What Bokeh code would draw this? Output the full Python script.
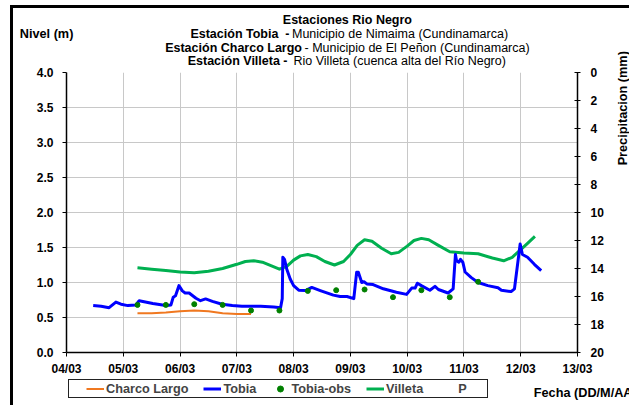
import math
from bokeh.plotting import figure
from bokeh.layouts import column
from bokeh.models import (Range1d, LinearAxis, FixedTicker, Legend, LegendItem,
                          Label, Title, NumeralTickFormatter)
from bokeh.embed import file_html
from bokeh.resources import INLINE

# ---------------- data ----------------
dias_ticks = [4, 5, 6, 7, 8, 9, 10, 11, 12, 13]
etiquetas_fecha = ["04/03", "05/03", "06/03", "07/03", "08/03",
                   "09/03", "10/03", "11/03", "12/03", "13/03"]
nivel_ticks = [0.0, 0.5, 1.0, 1.5, 2.0, 2.5, 3.0, 3.5, 4.0]
precip_ticks = [0, 2, 4, 6, 8, 10, 12, 14, 16, 18, 20]

tobia_dia = [4.47, 4.61, 4.75, 4.87, 4.96, 5.08, 5.22, 5.28, 5.52, 5.75, 5.84, 5.88,
             5.92, 5.98, 6.04, 6.09, 6.16, 6.28, 6.36, 6.45, 6.57, 6.74, 6.92, 7.09,
             7.33, 7.42, 7.65, 7.77, 7.80, 7.81, 7.84, 7.88, 7.94, 8.00, 8.09, 8.21,
             8.32, 8.47, 8.70, 8.82, 8.94, 9.06, 9.11, 9.14, 9.20, 9.24, 9.29, 9.40,
             9.58, 9.81, 9.99, 10.08, 10.14, 10.18, 10.25, 10.40, 10.49, 10.55, 10.72,
             10.81, 10.85, 10.87, 10.91, 10.94, 10.98, 11.02, 11.13, 11.25, 11.42,
             11.60, 11.66, 11.83, 11.89, 11.99, 12.03, 12.12, 12.24, 12.36]
tobia_nivel = [0.67, 0.66, 0.64, 0.72, 0.69, 0.67, 0.68, 0.74, 0.70, 0.67, 0.68, 0.79,
               0.81, 0.955, 0.88, 0.85, 0.85, 0.775, 0.74, 0.765, 0.73, 0.69, 0.67, 0.66,
               0.66, 0.66, 0.65, 0.64, 0.77, 1.36, 1.33, 1.19, 1.05, 0.955, 0.89, 0.885,
               0.93, 0.885, 0.82, 0.80, 0.80, 0.77, 1.145, 1.145, 1.0, 1.01, 0.98, 0.97,
               0.91, 0.86, 0.83, 0.92, 0.92, 0.99, 0.955, 0.89, 0.945, 0.90, 0.85,
               0.91, 1.40, 1.31, 1.29, 1.33, 1.29, 1.15, 1.07, 1.0, 0.955,
               0.925, 0.89, 0.87, 0.91, 1.55, 1.40, 1.36, 1.26, 1.17]

obs_dia = [5.25, 5.75, 6.25, 6.75, 7.25, 7.75, 8.25, 8.75, 9.25, 9.75, 10.25, 10.75, 11.25]
obs_nivel = [0.68, 0.68, 0.69, 0.68, 0.60, 0.60, 0.88, 0.89, 0.90, 0.79, 0.89, 0.79, 1.01]

charco_dia = [5.25, 5.5, 5.75, 6.0, 6.25, 6.5, 6.75, 7.0, 7.25]
charco_nivel = [0.56, 0.56, 0.57, 0.59, 0.60, 0.59, 0.56, 0.55, 0.55]

villeta_dia = [5.25, 5.5, 5.75, 6.0, 6.25, 6.5, 6.75, 7.0, 7.15, 7.3, 7.45, 7.6, 7.75,
               7.88, 8.0, 8.12, 8.25, 8.4, 8.55, 8.72, 8.88, 9.0, 9.12, 9.25, 9.38,
               9.55, 9.72, 9.85, 10.0, 10.12, 10.25, 10.38, 10.55, 10.75, 11.0,
               11.25, 11.5, 11.7, 11.85, 12.0, 12.12, 12.25]
villeta_nivel = [1.21, 1.19, 1.17, 1.15, 1.14, 1.16, 1.20, 1.26, 1.30, 1.31, 1.29, 1.24,
                 1.19, 1.23, 1.32, 1.38, 1.40, 1.37, 1.30, 1.25, 1.30, 1.40, 1.53, 1.61,
                 1.59, 1.49, 1.41, 1.43, 1.52, 1.60, 1.63, 1.61, 1.53, 1.44, 1.42,
                 1.41, 1.35, 1.31, 1.36, 1.47, 1.56, 1.66]

p_dia = []
p_mm = []

FONT = "Liberation Sans"
COL_VIL, COL_TOB, COL_CHA, COL_OBS, COL_P = "#00B050", "#0000FF", "#F07820", "#008000", "#006400"

# ---------------- main figure ----------------
W, H1, H2 = 629, 378, 27
p = figure(width=W, height=H1, output_backend="svg", toolbar_location=None,
           x_range=Range1d(4, 13), y_range=Range1d(0, 4),
           min_border_left=66, min_border_right=52, min_border_top=72,
           min_border_bottom=24)
p.title_location = None
p.outline_line_color = None
p.background_fill_color = "white"
p.border_fill_color = None
p.extra_y_ranges = {"precip": Range1d(start=20, end=0)}
p.styles = {"background": ", ".join([
    "linear-gradient(#000,#000) 10px 5px / 3px 380px no-repeat",
    "linear-gradient(#000,#000) 10px 5px / 619px 3px no-repeat",
    "#ffffff"])}


def dx(X):
    return 4 + (X - 66) * 9 / 511.0


def dy(Y):
    return (354 - Y) / 70.5


xa = p.xaxis[0]
ya = p.yaxis[0]
xa.ticker = FixedTicker(ticks=dias_ticks)
xa.major_label_overrides = {d: t for d, t in zip(dias_ticks, etiquetas_fecha)}
ya.ticker = FixedTicker(ticks=nivel_ticks)
ya.formatter = NumeralTickFormatter(format="0.0")

ax_r = LinearAxis(y_range_name="precip", ticker=FixedTicker(ticks=precip_ticks))
p.add_layout(ax_r, "right")

for ax in (xa, ya, ax_r):
    ax.axis_line_color = "black"
    ax.axis_line_width = 1.5
    ax.major_tick_line_color = "black"
    ax.major_tick_line_width = 1
    ax.minor_tick_line_color = None
    ax.minor_tick_in = 0
    ax.minor_tick_out = 0
    ax.major_label_text_font = FONT
    ax.major_label_text_font_style = "bold"
    ax.major_label_text_font_size = "12px"
    ax.major_label_text_color = "black"

xa.major_tick_in = 0
xa.major_tick_out = 4
xa.major_label_standoff = 5
ya.major_tick_in = 0
ya.major_tick_out = 4
ya.major_label_standoff = 9
ax_r.major_tick_in = 3
ax_r.major_tick_out = 3
ax_r.major_label_standoff = 10

p.xgrid.grid_line_color = "#c8c8c8"
p.ygrid.grid_line_color = "#c8c8c8"
p.xgrid.ticker = FixedTicker(ticks=dias_ticks)
p.ygrid.ticker = FixedTicker(ticks=nivel_ticks)

p.line(villeta_dia, villeta_nivel, line_color=COL_VIL, line_width=3, line_join="round")
p.line(tobia_dia, tobia_nivel, line_color=COL_TOB, line_width=3, line_join="round")
p.line(charco_dia, charco_nivel, line_color=COL_CHA, line_width=2)
p.scatter(obs_dia, obs_nivel, size=5, fill_color=COL_OBS, line_color=COL_OBS)
p.scatter(p_dia, p_mm, size=3, fill_color=COL_P, line_color=COL_P, y_range_name="precip")

# ---------------- header texts (stacked title rows) ----------------
TH = 14


def row(text, h=0, align="left", offset=0, bold=True, size="12.5px"):
    p.add_layout(Title(text=text, align=align, offset=offset, standoff=h - 2 - TH,
                       vertical_align="middle", text_font=FONT, text_font_size=size,
                       text_font_style="bold" if bold else "normal",
                       text_color="black"), "above")


SP = "\u00a0"
row(SP, h=12)
row("Estación Villeta -", align="right", offset=577 - 287)
row("Rio Villeta (cuenca alta del Río Negro)", offset=293 - 66, bold=False)
row(SP, h=13)
row("Estación Charco Largo", align="right", offset=577 - 301.5)
row("- Municipio de El Peñon (Cundinamarca)", offset=304 - 66, bold=False)
row(SP, h=14)
row("Estación Tobia\u00a0 -", align="right", offset=577 - 289)
row("Municipio de Nimaima (Cundinamarca)", offset=291.5 - 66, bold=False)
row("Nivel (m)", offset=19.3 - 66, size="12.7px")
row(SP, h=14)
row("Estaciones Rio Negro", offset=282.3 - 66)

p.add_layout(Label(x=dx(622), y=dy(108), text="Precipitacion (mm)", text_align="center",
                   text_baseline="middle", text_font=FONT, text_font_style="bold",
                   text_font_size="12.7px", text_color="black", angle=math.pi / 2),
             "right")

# ---------------- legend strip (second figure, pixel ranges) ----------------
q = figure(width=W, height=H2, output_backend="svg", toolbar_location=None,
           x_range=Range1d(0, W), y_range=Range1d(0, H2),
           x_axis_location=None, y_axis_location=None,
           min_border_left=0, min_border_right=0, min_border_top=0, min_border_bottom=0)
if "frame_align" in q.properties():
    q.frame_align = False
    p.frame_align = False
q.title_location = None
q.outline_line_color = None
q.background_fill_color = None
q.border_fill_color = None
for g in q.grid:
    g.visible = False
q.styles = {"background": ", ".join([
    "linear-gradient(#000,#000) 10px 0px / 3px 27px no-repeat",
    "linear-gradient(#222,#222) 68px 1px / 420px 1px no-repeat",
    "linear-gradient(#222,#222) 68px 19px / 420px 1px no-repeat",
    "linear-gradient(#222,#222) 68px 1px / 1px 19px no-repeat",
    "linear-gradient(#222,#222) 487px 1px / 1px 19px no-repeat",
    "#ffffff"])}

# series repeated on a range far away from the strip, only to key the legend
q.extra_x_ranges = {"fuera": Range1d(1000, 1001)}
q_cha = q.line(charco_dia, charco_nivel, line_color=COL_CHA, line_width=2,
               x_range_name="fuera")
q_tob = q.line(tobia_dia, tobia_nivel, line_color=COL_TOB, line_width=3,
               x_range_name="fuera")
q_obs = q.scatter(obs_dia, obs_nivel, size=5, fill_color=COL_OBS, line_color=COL_OBS,
                  x_range_name="fuera")
q_vil = q.line(villeta_dia, villeta_nivel, line_color=COL_VIL, line_width=3,
               x_range_name="fuera")
q_p = q.scatter(p_dia, p_mm, size=3, fill_color=COL_P, line_color=COL_P,
                x_range_name="fuera")

legend = Legend(items=[
    LegendItem(label="Charco Largo", renderers=[q_cha]),
    LegendItem(label="Tobia", renderers=[q_tob]),
    LegendItem(label="Tobia-obs", renderers=[q_obs]),
    LegendItem(label="Villeta", renderers=[q_vil]),
    LegendItem(label="P", renderers=[q_p]),
], orientation="horizontal", location=(86, 9))
legend.label_text_font = FONT
legend.label_text_font_style = "bold"
legend.label_text_font_size = "12.7px"
legend.glyph_width = 18
legend.glyph_height = 15
legend.label_height = 15
legend.label_width = 0
legend.label_standoff = 2
legend.spacing = 15
legend.padding = 0
legend.margin = 0
legend.border_line_alpha = 0
legend.background_fill_alpha = 0
q.add_layout(legend)

q.add_layout(Label(x=533.3, y=H2 - 14.7, text="Fecha (DD/M/AA)", text_align="left",
                   text_baseline="middle", text_font=FONT, text_font_style="bold",
                   text_font_size="12.7px", text_color="black"))

layout = column(p, q, spacing=0)
open("out.html", "w").write(file_html(layout, INLINE))
